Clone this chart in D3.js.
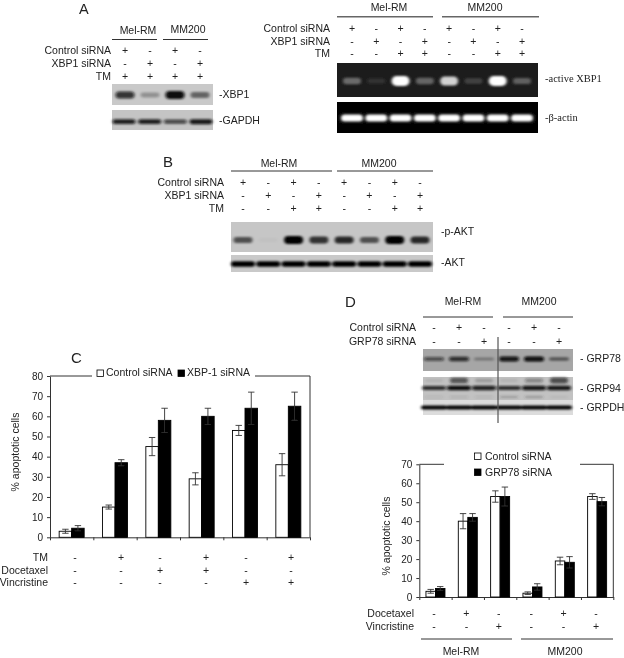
<!DOCTYPE html>
<html>
<head>
<meta charset="utf-8">
<script src="https://cdn.jsdelivr.net/npm/d3@7"></script>
<style>
body { margin: 0; background: #fff; }
text { font-family: "Liberation Sans", Arial, sans-serif; fill: #222; }
</style>
</head>
<body>
<div id="chart"></div>
<script>
// sign rows above the blots
const rowsA1 = [['Control siRNA', ['+','-','+','-']], ['XBP1 siRNA', ['-','+','-','+']], ['TM', ['+','+','+','+']]];
const rowsA2 = [['Control siRNA', ['+','-','+','-','+','-','+','-']], ['XBP1 siRNA', ['-','+','-','+','-','+','-','+']], ['TM', ['-','-','+','+','-','-','+','+']]];
const rowsD = [['Control siRNA', ['-','+','-','-','+','-']], ['GRP78 siRNA', ['-','-','+','-','-','+']]];
const rowsC = [['TM', ['-','+','-','+','-','+']], ['Docetaxel', ['-','-','+','+','-','-']], ['Vincristine', ['-','-','-','-','+','+']]];
const rowsD2 = [['Docetaxel', ['-','+','-','-','+','-']], ['Vincristine', ['-','-','+','-','-','+']]];

// band strengths per lane, 0 to 1
const xbp1Bands = [0.8, 0.28, 1, 0.5];
const gapdhBands = [0.9, 0.9, 0.7, 0.95];
const activeXbp1 = [0.35, 0.1, 1, 0.32, 0.8, 0.17, 1, 0.3];
const actinBands = [1, 1, 1, 1, 1, 1, 1, 1];
const pAkt = [0.6, 0.03, 1, 0.75, 0.8, 0.6, 1, 0.8];
const akt = [1, 1, 1, 1, 1, 1, 1, 1];
const grp78 = [0.6, 0.8, 0.3, 0.95, 1, 0.5];
const grp94top = [0.08, 0.65, 0.2, 0.08, 0.35, 0.7];
const grp94 = [0.85, 1, 0.9, 0.85, 0.95, 0.95];
const grp94low = [0.12, 0.18, 0.15, 0.28, 0.32, 0.08];
const grpdh = [1, 1, 1, 1, 1, 1];

// bar chart C
const controlC = [3, 15, 45, 29, 53, 36];
const controlErrC = [1, 1, 4.5, 3, 2.5, 5.5];
const xbpC = [4.5, 37, 58, 60, 64, 65];
const xbpErrC = [1.3, 1.5, 6, 4, 8, 7];
// bar chart D
const controlD = [3, 40, 53, 2, 19, 53];
const controlErrD = [1, 4, 3, 0.7, 2, 1.5];
const grpD = [4.5, 42, 53, 5.3, 18.3, 50.3];
const grpErrD = [1, 2, 5, 1.7, 3, 2.2];

const svg = d3.select('#chart').append('svg').attr('width', 624).attr('height', 658).style('display', 'block');
const defs = svg.append('defs');
defs.append('filter').attr('id', 'blur').attr('x', '-30%').attr('y', '-100%').attr('width', '160%').attr('height', '300%')
  .append('feGaussianBlur').attr('stdDeviation', '1.5 1');
defs.append('filter').attr('id', 'soft').attr('filterUnits', 'userSpaceOnUse').attr('x', 0).attr('y', 0).attr('width', 624).attr('height', 658)
  .append('feGaussianBlur').attr('stdDeviation', 0.35);

const root = svg.append('g').attr('filter', 'url(#soft)');

function label(x, y, s, opts) {
  opts = opts || {};
  return root.append('text').attr('x', x).attr('y', y).text(s)
    .attr('font-size', opts.size || 10.5)
    .attr('text-anchor', opts.anchor || 'start')
    .style('font-family', opts.family || null);
}

function rule(x1, x2, y, color, width) {
  root.append('line').attr('x1', x1).attr('x2', x2).attr('y1', y).attr('y2', y)
    .attr('stroke', color || '#333').attr('stroke-width', width || 1);
}

// sign table: row name right aligned at nameX, one sign per lane
function signs(rows, lanes, nameX, y0, dy) {
  rows.forEach((row, i) => {
    const y = y0 + i * dy;
    label(nameX, y, row[0], { anchor: 'end' });
    root.selectAll(null).data(row[1]).enter().append('text')
      .attr('x', (d, j) => lanes(j)).attr('y', y)
      .attr('text-anchor', 'middle').attr('font-size', 10.5)
      .text(d => d);
  });
}

function gel(x0, x1, y0, y1, bg) {
  root.append('rect').attr('x', x0).attr('y', y0).attr('width', x1 - x0).attr('height', y1 - y0).attr('fill', bg);
}

function bands(values, lanes, y, o) {
  const hh = d => o.h * (0.45 + 0.55 * d);
  root.append('g').attr('filter', 'url(#blur)').selectAll('rect').data(values).enter().append('rect')
    .attr('x', (d, i) => lanes(i) - o.w / 2)
    .attr('y', d => y - hh(d) / 2)
    .attr('width', o.w)
    .attr('height', hh)
    .attr('rx', d => hh(d) / 2)
    .attr('fill', o.color)
    .attr('opacity', d => d);
}

function lanesOf(first, last, n) {
  return d3.scaleLinear().domain([0, n - 1]).range([first, last]);
}

// ---- panel A left
label(79, 13.5, 'A', { size: 14.5 });
const laneA1 = lanesOf(125, 200, 4);
label(138, 34, 'Mel-RM', { anchor: 'middle' });
label(188, 33, 'MM200', { anchor: 'middle' });
rule(112, 157, 39.5);
rule(163, 208, 39.5);
signs(rowsA1, laneA1, 111, 54, 13);
gel(112, 213, 84, 105, '#c9c9c9');
bands(xbp1Bands, laneA1, 95, { w: 19, h: 8, color: '#0c0c0c' });
gel(112, 213, 110, 130, '#c4c4c4');
bands(gapdhBands, lanesOf(124, 201, 4), 121.7, { w: 23, h: 5, color: '#0c0c0c' });
label(219, 98, '-XBP1');
label(219, 124, '-GAPDH');

// ---- panel A right
const laneA2 = lanesOf(352, 522, 8);
label(389, 11, 'Mel-RM', { anchor: 'middle' });
label(485, 11, 'MM200', { anchor: 'middle' });
rule(337, 433, 16.7, '#666', 1.4);
rule(442, 539, 16.7, '#666', 1.4);
signs(rowsA2, laneA2, 330, 32, 12.7);
gel(337, 538, 63, 97, '#1c1c1c');
bands(activeXbp1, laneA2, 81, { w: 18, h: 10, color: '#fff' });
gel(337, 538, 102, 133, '#050505');
bands(actinBands, laneA2, 118, { w: 22, h: 7, color: '#fff' });
label(545, 82, '-active XBP1', { size: 10.5, family: '"Liberation Serif", serif' });
label(545, 121, '-\u03b2-actin', { size: 10.5, family: '"Liberation Serif", serif' });

// ---- panel B
label(163, 167, 'B', { size: 15 });
const laneB = lanesOf(243, 420, 8);
label(279, 167, 'Mel-RM', { anchor: 'middle' });
label(379, 167, 'MM200', { anchor: 'middle' });
rule(231, 332, 171);
rule(337, 433, 171);
signs(rowsA2, laneB, 224, 186, 13);
gel(231, 433, 222, 252, '#c6c6c6');
bands(pAkt, laneB, 240, { w: 19, h: 8, color: '#050505' });
gel(231, 433, 255, 272, '#c9c9c9');
bands(akt, laneB, 264, { w: 24, h: 5.5, color: '#050505' });
label(441, 235, '-p-AKT');
label(441, 266, '-AKT');

// ---- panel D blots
label(345, 307, 'D', { size: 15 });
const laneD = lanesOf(434, 559, 6);
label(463, 305, 'Mel-RM', { anchor: 'middle' });
label(539, 305, 'MM200', { anchor: 'middle' });
rule(423, 493, 317);
rule(503, 573, 317);
signs(rowsD, laneD, 416, 331, 13.5);
gel(423, 573, 349, 371, '#a6a6a6');
bands(grp78, laneD, 359, { w: 20, h: 5, color: '#0c0c0c' });
gel(423, 573, 377, 400, '#c2c2c2');
bands(grp94top, laneD, 380.5, { w: 18, h: 7, color: '#1a1a1a' });
bands(grp94, laneD, 388, { w: 24, h: 4.5, color: '#0c0c0c' });
bands(grp94low, laneD, 397, { w: 18, h: 3, color: '#333' });
gel(423, 573, 400, 415, '#dcdcdc');
bands(grpdh, laneD, 407.6, { w: 26, h: 4, color: '#050505' });
root.append('line').attr('x1', 498).attr('x2', 498).attr('y1', 337).attr('y2', 423).attr('stroke', '#555').attr('stroke-width', 1.2);
label(580, 362, '- GRP78');
label(580, 392, '- GRP94');
label(580, 411, '- GRPDH');

// ---- bar charts
function barChart(o) {
  const y = d3.scaleLinear().domain([0, o.max]).range([o.bottom, o.top]);
  const x = d3.scaleBand().domain(d3.range(6)).range([o.left, o.right]);
  const edges = d3.scaleLinear().domain([0, 6]).range([o.left, o.right]);
  const g = root.append('g');

  g.append('g').attr('transform', 'translate(' + o.left + ',0)')
    .call(d3.axisLeft(y).tickValues(d3.range(0, o.max + 1, 10)).tickSize(3).tickSizeOuter(0))
    .call(a => a.selectAll('text').attr('font-size', 10).attr('font-family', null).attr('dx', -1));
  g.append('g').attr('transform', 'translate(0,' + o.bottom + ')')
    .call(d3.axisBottom(edges).tickValues(d3.range(0, 7)).tickFormat('').tickSize(3).tickSizeOuter(0));

  g.selectAll('.domain, .tick line').attr('stroke', '#333');
  // frame on top and right, broken by the legend
  g.append('path').attr('fill', 'none').attr('stroke', '#333')
    .attr('d', d3.line()([[o.left, o.top], [o.gap[0], o.top]]));
  g.append('path').attr('fill', 'none').attr('stroke', '#333')
    .attr('d', d3.line()([[o.gap[1], o.top], [o.right, o.top], [o.right, o.bottom]]));

  const series = [
    { vals: o.a, errs: o.aErr, fill: '#fff', off: -o.barW },
    { vals: o.b, errs: o.bErr, fill: '#000', off: 0 }
  ];
  series.forEach(s => {
    const cx = i => x(i) + x.bandwidth() / 2 + s.off;
    g.selectAll(null).data(s.vals).enter().append('rect')
      .attr('x', (d, i) => cx(i)).attr('y', d => y(d))
      .attr('width', o.barW).attr('height', d => o.bottom - y(d))
      .attr('fill', s.fill).attr('stroke', '#000').attr('stroke-width', 0.9);
    s.vals.forEach((v, i) => {
      const m = cx(i) + o.barW / 2;
      const hi = y(v + s.errs[i]), lo = y(v - s.errs[i]);
      const path = d3.path();
      path.moveTo(m, hi); path.lineTo(m, lo);
      path.moveTo(m - 3.2, hi); path.lineTo(m + 3.2, hi);
      path.moveTo(m - 3.2, lo); path.lineTo(m + 3.2, lo);
      g.append('path').attr('d', path.toString()).attr('fill', 'none').attr('stroke', '#333').attr('stroke-width', 0.9);
    });
  });
}

function swatch(x, y, fill) {
  root.append('rect').attr('x', x).attr('y', y).attr('width', 6.5).attr('height', 6.5)
    .attr('fill', fill).attr('stroke', '#000').attr('stroke-width', 0.8);
}

// ---- panel C
label(71, 363, 'C', { size: 15 });
barChart({ left: 50, right: 310, top: 376, bottom: 537.3, max: 80, barW: 12.5, gap: [92, 255],
  a: controlC, aErr: controlErrC, b: xbpC, bErr: xbpErrC });
swatch(97, 370, '#fff');
label(106, 376, 'Control siRNA');
swatch(178, 370, '#000');
label(187, 376, 'XBP-1 siRNA');
root.append('text').attr('transform', 'translate(19,452) rotate(-90)').attr('text-anchor', 'middle').attr('font-size', 10.5).text('% apoptotic cells');
const laneC = d3.scaleLinear().domain(d3.range(6)).range([75, 121, 160, 206, 246, 291]);
signs(rowsC, laneC, 48, 561, 12.6);

// ---- panel D chart
barChart({ left: 419.3, right: 613.3, top: 464.3, bottom: 597, max: 70, barW: 9.5, gap: [444, 580],
  a: controlD, aErr: controlErrD, b: grpD, bErr: grpErrD });
swatch(474.5, 453, '#fff');
label(485, 459.5, 'Control siRNA');
swatch(474.5, 469, '#000');
label(485, 476, 'GRP78 siRNA');
root.append('text').attr('transform', 'translate(390,536) rotate(-90)').attr('text-anchor', 'middle').attr('font-size', 10.5).text('% apoptotic cells');
signs(rowsD2, lanesOf(434, 596, 6), 414, 617, 13);
rule(421, 512, 639);
rule(521, 613, 639);
label(461, 655, 'Mel-RM', { anchor: 'middle' });
label(565, 655, 'MM200', { anchor: 'middle' });
</script>
</body>
</html>
